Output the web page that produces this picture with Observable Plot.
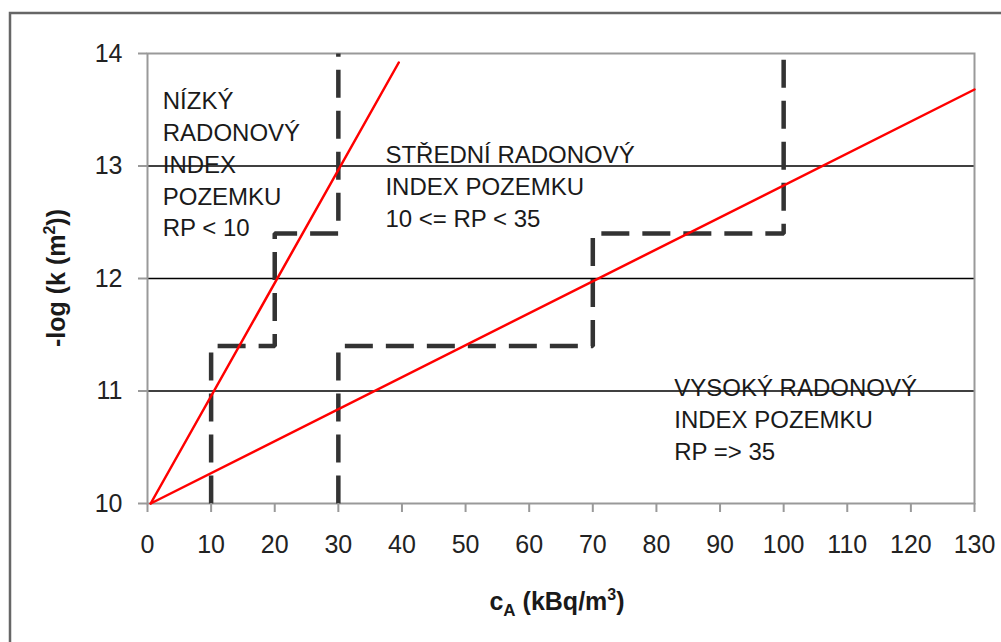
<!DOCTYPE html>
<html>
<head>
<meta charset="utf-8">
<script src="https://cdn.jsdelivr.net/npm/d3@7"></script>
<script src="https://cdn.jsdelivr.net/npm/@observablehq/plot@0.6"></script>
<style>
  html, body { margin: 0; padding: 0; background: #fff; }
  #chart { width: 1001px; height: 642px; }
</style>
</head>
<body>
<div id="chart"></div>
<script>
// ---- data ----
const xTicks = [0, 10, 20, 30, 40, 50, 60, 70, 80, 90, 100, 110, 120, 130];
const yTicks = [10, 11, 12, 13, 14];
const gridValues = [11, 12, 13];

// red boundary lines
const lowLineX = [0.5, 39.5];
const lowLineY = [10, 13.92];
const highLineX = [0.5, 130];
const highLineY = [10, 13.68];

// dashed step boundaries
const stepLowX = [10, 10, 20, 20, 30, 30];
const stepLowY = [10, 11.4, 11.4, 12.4, 12.4, 14];
const stepHighX = [30, 30, 70, 70, 100, 100];
const stepHighY = [10, 11.4, 11.4, 12.4, 12.4, 14];

// zone labels
const zoneLabels = [
  "NÍZKÝ\nRADONOVÝ\nINDEX\nPOZEMKU\nRP < 10",
  "STŘEDNÍ RADONOVÝ\nINDEX POZEMKU\n10 <= RP < 35",
  "VYSOKÝ RADONOVÝ\nINDEX POZEMKU\nRP => 35"
];
const zoneX = [2.4, 37.4, 82.8];
const zoneY = [13.71, 13.23, 11.16];

// ---- build tables ----
const pts = (xs, ys) => xs.map((x, i) => ({x, y: ys[i]}));
const zones = zoneLabels.map((t, i) => ({text: t, x: zoneX[i], y: zoneY[i]}));

const W = 1001, H = 642;
const plot = Plot.plot({
  width: W,
  height: H,
  marginLeft: 147,
  marginRight: 27,
  marginTop: 53,
  marginBottom: 139,
  style: {fontFamily: "'Liberation Sans', Arial, sans-serif", background: "#fff", color: "#222"},
  x: {domain: [0, 130]},
  y: {domain: [10, 14]},
  marks: [
    Plot.ruleY(gridValues, {stroke: "#000", strokeWidth: 1.5}),
    Plot.frame({stroke: "#999", strokeWidth: 2}),
    Plot.line(pts(stepLowX, stepLowY), {x: "x", y: "y", stroke: "#333", strokeWidth: 4.5, strokeDasharray: "28,13", strokeLinejoin: "miter", strokeLinecap: "butt"}),
    Plot.line(pts(stepHighX, stepHighY), {x: "x", y: "y", stroke: "#333", strokeWidth: 4.5, strokeDasharray: "28,13", strokeLinejoin: "miter", strokeLinecap: "butt"}),
    Plot.line(pts(lowLineX, lowLineY), {x: "x", y: "y", stroke: "#ff0000", strokeWidth: 2.5}),
    Plot.line(pts(highLineX, highLineY), {x: "x", y: "y", stroke: "#ff0000", strokeWidth: 2.5}),
    Plot.text(zones, {x: "x", y: "y", text: "text", textAnchor: "start", lineAnchor: "top", lineHeight: 1.33, fontSize: 24, fill: "#1a1a1a"}),
    Plot.axisX(xTicks, {tickSize: 9, tickPadding: 23, fontSize: 25, stroke: "#999", strokeWidth: 2, fill: "#222", tickFormat: "d", label: null}),
    Plot.axisY(yTicks, {tickSize: 9, tickPadding: 16, fontSize: 25, stroke: "#999", strokeWidth: 2, fill: "#222", tickFormat: "d", label: null})
  ]
});

const svg = d3.select(plot);
// outer border (top and left visible)
svg.append("path")
  .attr("d", `M10,${H} V13 H${W}`)
  .attr("fill", "none")
  .attr("stroke", "#666")
  .attr("stroke-width", 2.5);

// x axis title with subscript/superscript
const xt = svg.append("text")
  .attr("x", 557).attr("y", 610)
  .attr("text-anchor", "middle")
  .attr("font-weight", "bold")
  .attr("font-size", 25)
  .attr("fill", "#1a1a1a");
xt.append("tspan").text("c");
xt.append("tspan").attr("dy", 6).attr("font-size", 17).text("A");
xt.append("tspan").attr("dy", -6).text(" (kBq/m");
xt.append("tspan").attr("dy", -10).attr("font-size", 16).text("3");
xt.append("tspan").attr("dy", 10).text(")");

// y axis title
const yt = svg.append("text")
  .attr("transform", "translate(65,278) rotate(-90)")
  .attr("text-anchor", "middle")
  .attr("font-weight", "bold")
  .attr("font-size", 25)
  .attr("fill", "#1a1a1a");
yt.append("tspan").text("-log (k (m");
yt.append("tspan").attr("dy", -10).attr("font-size", 16).text("2");
yt.append("tspan").attr("dy", 10).text("))");

document.getElementById("chart").appendChild(plot);
</script>
</body>
</html>
